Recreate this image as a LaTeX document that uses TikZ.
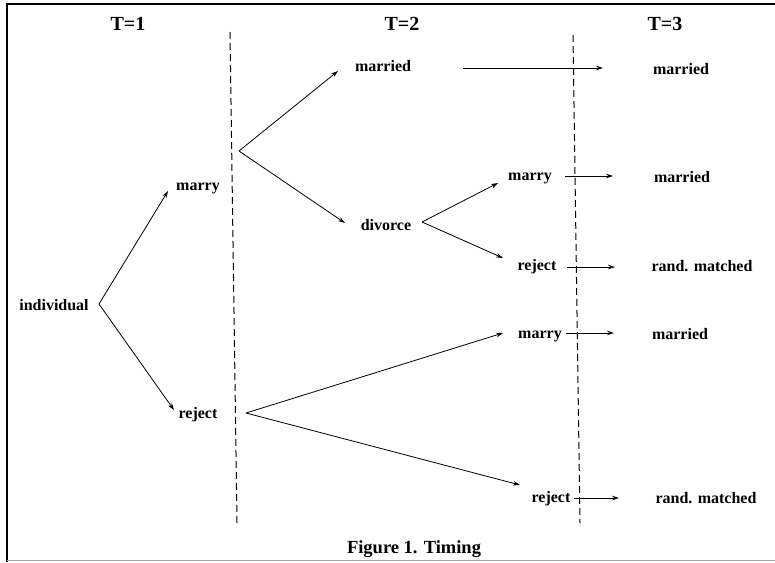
\documentclass[tikz,border=0pt]{standalone}
\usepackage{fontspec}
\setmainfont{Liberation Serif}
\usetikzlibrary{arrows.meta}
\begin{document}
\begin{tikzpicture}[x=1pt,y=-1pt,
  lbl/.style={font=\fontsize{16}{18}\selectfont\bfseries, inner sep=0pt},
  hdr/.style={font=\fontsize{20}{22}\selectfont\bfseries, inner sep=0pt},
  arr/.style={-{Stealth[length=7pt,width=4.5pt]}, line width=0.8pt},
  period/.style={dash pattern=on 7pt off 4pt, line width=1pt}]
\useasboundingbox (0,0) rectangle (775,562);
\fill[white] (0,0) rectangle (775,562);
% page frame
\draw[line width=2pt] (6.5,562) -- (6.5,4) -- (775,4);
\draw[gray!70, line width=1pt] (6.5,560.5) -- (775,560.5);

% period headings
\node[hdr] (h1) at (128,24) {T=1};
\node[hdr] (h2) at (402,24) {T=2};
\node[hdr] (h3) at (665,24) {T=3};

% period boundaries
\coordinate (s1top) at (230,32);
\coordinate (s1bot) at (237,523);
\coordinate (s2top) at (573,35);
\coordinate (s2bot) at (580,523);
\draw[period] (s1top) -- (s1bot);
\draw[period] (s2top) -- (s2bot);

% decision states
\node[lbl] (ind) at (54,305) {individual};
\node[lbl] (m1)  at (198,188) {marry};
\node[lbl] (r1)  at (198,415) {reject};
\node[lbl] (m2)  at (383,66) {married};
\node[lbl] (d2)  at (386,225) {divorce};
\node[lbl] (m2b) at (530,178) {marry};
\node[lbl] (r2b) at (537,267) {reject};
\node[lbl] (m2c) at (540,336) {marry};
\node[lbl] (r2c) at (551,499) {reject};
\node[lbl] (m3a) at (681,69) {married};
\node[lbl] (m3b) at (682,177) {married};
\node[lbl] (x3b) at (702,266) {rand. matched};
\node[lbl] (m3c) at (680,334) {married};
\node[lbl] (x3c) at (706,498) {rand. matched};

% branch points and arrow tips
\coordinate (v1) at (99,304);
\coordinate (v1a) at (168,191);
\coordinate (v1b) at (174,410);
\coordinate (v2) at (239,151);
\coordinate (v2a) at (338,71);
\coordinate (v2b) at (345,223);
\coordinate (v3) at (246,413);
\coordinate (v3a) at (503,333);
\coordinate (v3b) at (520,485);
\coordinate (v4) at (422,222);
\coordinate (v4a) at (498,183);
\coordinate (v4b) at (503,258);

\draw[arr] (v1) -- (v1a);
\draw[arr] (v1) -- (v1b);
\draw[arr] (v2) -- (v2a);
\draw[arr] (v2) -- (v2b);
\draw[arr] (v3) -- (v3a);
\draw[arr] (v3) -- (v3b);
\draw[arr] (v4) -- (v4a);
\draw[arr] (v4) -- (v4b);

% transitions into T=3
\coordinate (ha0) at (463,68);  \coordinate (ha1) at (603,68);
\coordinate (hb0) at (565,176); \coordinate (hb1) at (613,176);
\coordinate (hc0) at (567,267); \coordinate (hc1) at (615,267);
\coordinate (hd0) at (566,333); \coordinate (hd1) at (614,333);
\coordinate (he0) at (574,498); \coordinate (he1) at (619,498);
\draw[arr] (ha0) -- (ha1);
\draw[arr] (hb0) -- (hb1);
\draw[arr] (hc0) -- (hc1);
\draw[arr] (hd0) -- (hd1);
\draw[arr] (he0) -- (he1);

% caption
\node[font=\fontsize{18.5}{20}\selectfont\bfseries, inner sep=0pt] (cap) at (414,549) {Figure 1. Timing};
\end{tikzpicture}
\end{document}
